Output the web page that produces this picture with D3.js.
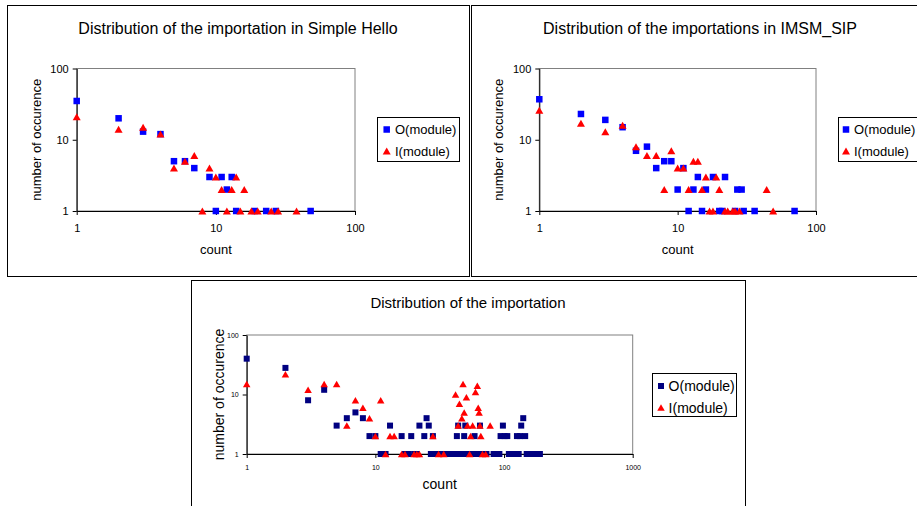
<!DOCTYPE html>
<html><head><meta charset="utf-8">
<script src="https://cdn.jsdelivr.net/npm/d3@7"></script>
<style>body{margin:0;background:#fff} svg{display:block}</style>
</head><body>
<svg id="c" width="917" height="506"></svg>
<script>
// ---- data ----
const yTickValues = [1, 10, 100];
const xTickValuesTop = [1, 10, 100];
const xTickValuesBottom = [1, 10, 100, 1000];
const seriesNames = ["O(module)", "I(module)"];
const titles = ["Distribution of the importation in Simple Hello",
                "Distribution of the importations in IMSM_SIP",
                "Distribution of the importation"];
const xTitle = "count";
const yTitle = "number of occurence";

// Simple Hello
const helloOCount = [1,2,3,4,5,6,7,9,10,11,12,13,14,19,23,27,48];
const helloOOcc   = [35,20,13,12,5,5,4,3,1,3,2,3,1,1,1,1,1];
const helloICount = [1,2,3,4,5,6,7,8,9,10,11,12,13,14,15,16,18,20,25,28,38];
const helloIOcc   = [21,14,15,12,4,5,6,1,4,3,2,1,2,3,1,2,1,1,1,1,1];

// IMSM_SIP
const sipOCount = [1,2,3,4,5,6,7,8,9,10,11,12,13,14,15,16,18,20,21,22,26,27,29,30,36,70];
const sipOOcc   = [37,23,19,15,7,8,4,5,5,2,4,1,2,3,1,2,3,1,1,3,1,2,2,1,1,1];
const sipICount = [1,2,3,4,5,6,7,8,9,10,11,12,13,14,15,16,17,18,19,20,22,23,25,26,28,44,49];
const sipIOcc   = [26,17,13,16,8,6,6,2,7,4,4,2,5,5,2,3,1,1,3,2,1,1,1,1,1,2,1];

// All
const allOCount = [1,2,3,4,5,6,7,8,9,10,11,12,13,16,17,18,19,20,21,22,24,25,26,27,28,29,30,31,33,34,36,38,39,42,43,44,46,48,49,50,51,53,55,57,59,60,62,65,66,68,70,73,83,86,89,92,94,98,101,106,109,112,116,120,123,126,130,133,136,141,146,150,158,165,172,190];
const allOOcc   = [40,28,8,12,3,4,5,4,2,2,1,1,3,2,1,1,2,1,1,3,2,4,3,1,2,1,1,1,1,1,1,1,1,1,2,3,1,1,2,3,1,1,1,1,2,1,1,3,1,1,1,1,1,1,1,1,2,3,2,2,1,1,1,1,1,2,1,2,3,4,2,1,1,1,1,1];
const allICount = [1,2,3,4,5,6,7,8,9,10,11,12,13,14,16,17,20,21,22,28,31,34,42,44,45,47,48,49,51,52,54,55,57,60,62,63,64,65,66,68,72,78];
const allIOcc   = [15,22,12,15,15,3,8,6,4,2,8,1,2,2,1,1,1,1,1,2,1,1,10,3,7,4,15,5,9,3,1,2,3,11,14,6,5,3,2,1,1,3];

// ---- drawing ----
const svg = d3.select("#c");
const FONT = "'Liberation Sans', Arial, sans-serif";

function triPath(w, h) {
  return `M0,${-h/2}L${w/2},${h/2}L${-w/2},${h/2}Z`;
}

function panel(cfg) {
  const g = svg.append("g");
  g.append("rect").attr("x", cfg.frame[0]).attr("y", cfg.frame[1])
    .attr("width", cfg.frame[2]).attr("height", cfg.frame[3])
    .attr("fill", "#fff").attr("stroke", "#000").attr("stroke-width", 1);

  const x = d3.scaleLog().domain(cfg.xDomain).range([cfg.plot.l, cfg.plot.r]);
  const y = d3.scaleLog().domain([1, 100]).range([cfg.plot.b, cfg.plot.t]);

  // plot area border (gray top/right)
  g.append("rect").attr("x", cfg.plot.l).attr("y", cfg.plot.t)
    .attr("width", cfg.plot.r - cfg.plot.l).attr("height", cfg.plot.b - cfg.plot.t)
    .attr("fill", "none").attr("stroke", "#808080").attr("stroke-width", 1);

  // axes
  const xAxis = d3.axisBottom(x).tickValues(cfg.xTicks).tickFormat(d3.format("d"))
    .tickSizeInner(4).tickSizeOuter(0).tickPadding(cfg.xPad);
  const yAxis = d3.axisLeft(y).tickValues(yTickValues).tickFormat(d3.format("d"))
    .tickSizeInner(4).tickSizeOuter(0).tickPadding(4);
  const gx = g.append("g").attr("transform", `translate(0,${cfg.plot.b})`).call(xAxis);
  const gy = g.append("g").attr("transform", `translate(${cfg.plot.l},0)`).call(yAxis);
  [gx, gy].forEach(a => {
    a.selectAll("path,line").attr("stroke", "#000").attr("stroke-width", 1);
    a.selectAll("text").attr("font-family", FONT).attr("font-size", cfg.tickFont).attr("fill", "#000");
  });

  // markers
  const oData = cfg.oCount.map((c, i) => [c, cfg.oOcc[i]]);
  const iData = cfg.iCount.map((c, i) => [c, cfg.iOcc[i]]);
  const s = cfg.sq;
  g.append("g").selectAll("rect").data(oData).join("rect")
    .attr("x", d => x(d[0]) - s/2).attr("y", d => y(d[1]) - s/2)
    .attr("width", s).attr("height", s).attr("fill", cfg.oColor);
  g.append("g").selectAll("path").data(iData).join("path")
    .attr("d", triPath(cfg.triW, cfg.triH))
    .attr("transform", d => `translate(${x(d[0])},${y(d[1])})`)
    .attr("fill", "#ff0000");

  // titles
  g.append("text").attr("x", cfg.titleX).attr("y", cfg.titleY).attr("text-anchor", "middle")
    .attr("font-family", FONT).attr("font-size", cfg.titleFont).text(cfg.title);
  g.append("text").attr("x", (cfg.plot.l + cfg.plot.r) / 2).attr("y", cfg.xTitleY)
    .attr("text-anchor", "middle").attr("font-family", FONT).attr("font-size", cfg.axisFont).text(xTitle);
  g.append("text").attr("transform", `translate(${cfg.yTitleX},${(cfg.plot.t + cfg.plot.b) / 2}) rotate(-90)`)
    .attr("text-anchor", "middle").attr("font-family", FONT).attr("font-size", cfg.axisFont).text(yTitle);

  // legend
  const L = cfg.legend;
  g.append("rect").attr("x", L.x).attr("y", L.y).attr("width", L.w).attr("height", L.h)
    .attr("fill", "#fff").attr("stroke", "#000").attr("stroke-width", 1);
  g.append("rect").attr("x", L.mx - s/2).attr("y", L.y1 - s/2).attr("width", s).attr("height", s).attr("fill", cfg.oColor);
  g.append("path").attr("d", triPath(cfg.triW, cfg.triH)).attr("transform", `translate(${L.mx},${L.y2})`).attr("fill", "#ff0000");
  [L.y1, L.y2].forEach((yy, i) => {
    g.append("text").attr("x", L.tx).attr("y", yy + L.font * 0.36).attr("font-family", FONT)
      .attr("font-size", L.font).text(seriesNames[i]);
  });
}

panel({
  frame: [7.5, 5.5, 462, 271], plot: {l: 76.7, r: 355, t: 68.5, b: 211},
  xDomain: [1, 100], xTicks: xTickValuesTop, xPad: 9, tickFont: 11,
  oCount: helloOCount, oOcc: helloOOcc, iCount: helloICount, iOcc: helloIOcc,
  oColor: "#0000ff", sq: 6.5, triW: 8, triH: 7,
  title: titles[0], titleX: 238, titleY: 34, titleFont: 16,
  xTitleY: 254, yTitleX: 40.5, axisFont: 13,
  legend: {x: 377.5, y: 117.5, w: 82, h: 44, mx: 386.7, y1: 129.5, y2: 151, tx: 395, font: 13}
});
panel({
  frame: [471.5, 5.5, 460, 271], plot: {l: 539.3, r: 816, t: 68.5, b: 211},
  xDomain: [1, 100], xTicks: xTickValuesTop, xPad: 9, tickFont: 11,
  oCount: sipOCount, oOcc: sipOOcc, iCount: sipICount, iOcc: sipIOcc,
  oColor: "#0000ff", sq: 6.5, triW: 8, triH: 7,
  title: titles[1], titleX: 700, titleY: 34, titleFont: 16,
  xTitleY: 254, yTitleX: 503, axisFont: 13,
  legend: {x: 838.5, y: 117.5, w: 90, h: 44, mx: 846, y1: 129.5, y2: 151, tx: 854, font: 13}
});
panel({
  frame: [191.5, 280.5, 554, 240], plot: {l: 246.7, r: 632.7, t: 335, b: 454},
  xDomain: [1, 1000], xTicks: xTickValuesBottom, xPad: 7, tickFont: 7,
  oCount: allOCount, oOcc: allOOcc, iCount: allICount, iOcc: allIOcc,
  oColor: "#000080", sq: 6, triW: 7.5, triH: 6.5,
  title: titles[2], titleX: 468, titleY: 308, titleFont: 15,
  xTitleY: 489, yTitleX: 224, axisFont: 14,
  legend: {x: 652.5, y: 373.5, w: 84, h: 43, mx: 661, y1: 386, y2: 407.5, tx: 668.6, font: 14}
});
</script>
</body></html>
